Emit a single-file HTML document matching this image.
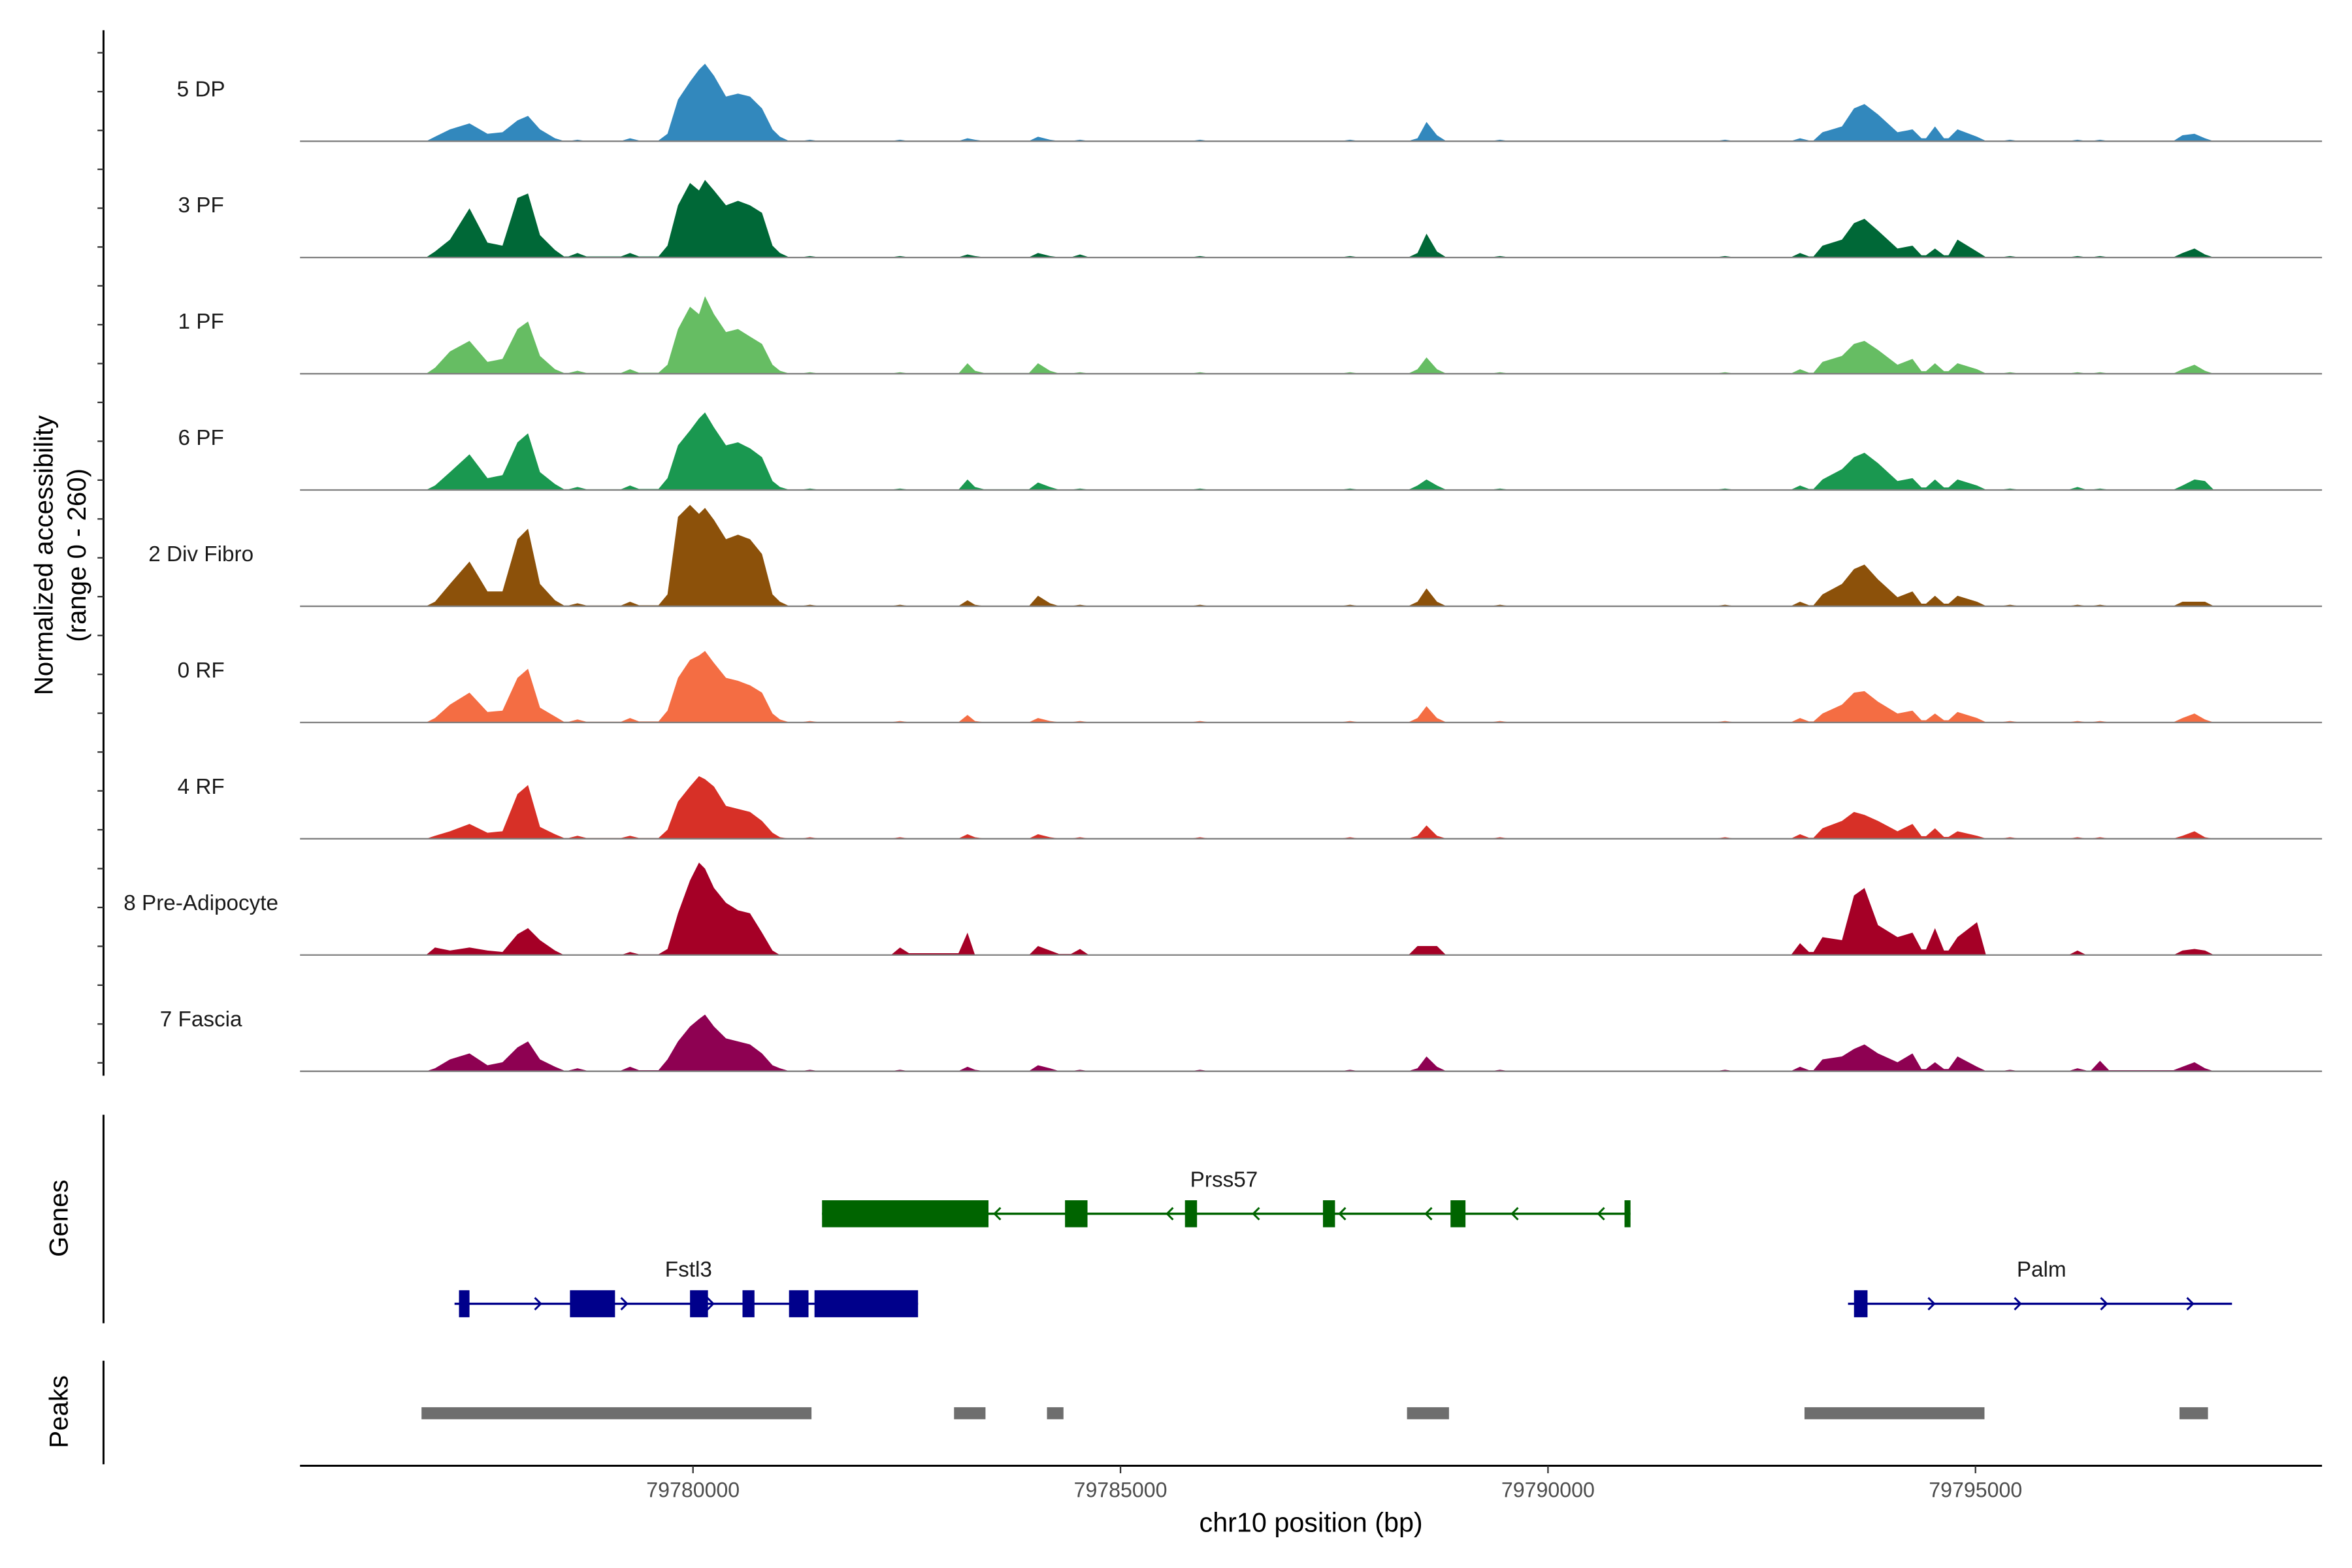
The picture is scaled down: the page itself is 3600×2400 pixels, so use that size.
<!DOCTYPE html>
<html><head><meta charset="utf-8"><style>
html,body{margin:0;padding:0;background:#fff;}
svg{display:block;font-family:"Liberation Sans",sans-serif;}
</style></head><body>
<svg id="chart" width="3600" height="2400" viewBox="0 0 1568 1045" xmlns="http://www.w3.org/2000/svg">
<rect width="1568" height="1045" fill="#fff"/>
<g id="tracks"></g>
<g id="genes"></g>
<g id="peaks"></g>
<g id="axes"></g>
</svg>
<script>
// ---- data ----
const positions=[79776491,79776982,79777158,79777386,79777596,79777772,79777947,79778070,79778211,79778386,79778649,79779263,79779702,79779825,79779965,79780070,79780140,79780246,79780386,79780526,79780667,79780807,79780930,79781018,79781368,79782421,79783211,79783298,79784035,79784175,79784526,79785930,79787684,79788474,79788579,79788702,79789439,79792070,79792947,79793211,79793439,79793579,79793702,79793860,79794088,79794263,79794526,79794789,79795018,79795404,79796193,79796456,79797421,79797561,79797684,79797982];
const trackNames=["5 DP","3 PF","1 PF","6 PF","2 Div Fibro","0 RF","4 RF","8 Pre-Adipocyte","7 Fascia"];
const trackColors=["#3288bd","#006837","#66bd63","#1a9850","#8c510a","#f46d43","#d73027","#a50026","#8e0152"];
const cov5DP=[0,3,8,12,5,6,14,17,8,2,1,2,5,28,40,48,52,44,30,32,30,22,8,3,1,1,2,1,3,1,1,1,1,2,13,4,1,1,2,6,10,22,25,18,6,8,10,8,3,1,1,1,4,5,2,0];
const cov3PF=[0,4,12,33,10,8,40,43,15,5,3,3,8,35,50,45,52,45,35,38,35,30,8,3,1,1,2,1,3,1,2,1,1,3,16,4,1,1,3,8,12,23,26,18,6,8,6,12,4,1,1,1,3,6,2,0];
const cov1PF=[0,4,15,22,8,10,30,35,12,3,2,3,6,30,45,40,52,40,28,30,25,20,6,2,1,1,7,2,7,2,1,1,1,3,11,3,1,1,3,8,12,20,22,16,6,10,7,7,3,1,1,1,3,6,2,0];
const cov6PF=[0,3,12,24,8,10,32,38,12,4,2,3,8,30,40,48,52,42,30,32,28,22,6,2,1,1,7,2,5,2,1,1,1,3,7,3,1,1,3,7,14,22,25,18,6,8,7,7,3,1,2,1,3,7,6,0];
const cov2DivFibro=[0,3,15,30,10,10,45,52,15,4,2,3,8,60,68,62,66,58,45,48,45,35,8,3,1,1,4,1,7,2,1,1,1,3,12,3,1,1,3,8,15,25,28,18,6,10,7,7,3,1,1,1,3,3,3,0];
const cov0RF=[0,3,12,20,7,8,30,36,10,4,2,3,8,30,42,45,48,40,30,28,25,20,6,2,1,1,5,1,3,1,1,1,1,3,11,3,1,1,3,6,12,20,21,14,6,8,6,7,3,1,1,1,3,6,2,0];
const cov4RF=[0,2,5,10,4,5,30,36,8,3,2,2,6,25,35,42,40,35,22,20,18,12,4,1,1,1,3,1,3,1,1,1,1,2,9,2,1,1,3,7,12,18,16,12,5,10,7,5,2,1,1,1,2,5,1,0];
const cov8PreAdipocyte=[0,5,3,5,3,2,14,18,10,3,0,2,4,28,50,62,58,45,35,30,28,15,3,0,0,5,15,0,6,3,4,0,0,6,6,6,0,0,8,12,10,40,45,20,12,15,18,12,22,0,3,0,3,4,3,0];
const cov7Fascia=[0,2,8,12,4,6,16,20,8,3,2,3,8,20,30,35,38,30,22,20,18,12,4,2,1,1,3,1,4,2,1,1,1,2,10,3,1,1,3,8,10,15,18,12,6,12,6,10,3,1,2,7,3,6,2,0];
const xTicks=[79780000,79785000,79790000,79795000];
// genes: [start,end]
const prss57Span=[79781509,79790965];
const prss57Exons=[[79781509,79783456],[79784351,79784614],[79785754,79785895],[79787368,79787509],[79788860,79789035],[79790895,79790965]];
const fstl3Span=[79777211,79782632];
const fstl3Exons=[[79777263,79777386],[79778561,79779088],[79779965,79780175],[79780579,79780719],[79781123,79781351],[79781421,79782632]];
const palmSpan=[79793509,79798000];
const palmExons=[[79793579,79793737]];
const peakStarts=[79776825,79783053,79784140,79788351,79793000,79797386];
const peakEnds=[79781386,79783421,79784333,79788842,79795105,79797719];

// ---- scales ----
const NS="http://www.w3.org/2000/svg";
const X0=462, PXPERBP=57/1000, REF=79780000;
function xs(bp){return X0+(bp-REF)*PXPERBP;}
const yMax=78, trackH=77.5;
function ys(v){return v/yMax*trackH;}
const covs=[cov5DP,cov3PF,cov1PF,cov6PF,cov2DivFibro,cov0RF,cov4RF,cov8PreAdipocyte,cov7Fascia];
function mk(tag,attrs,parent){const e=document.createElementNS(NS,tag);for(const k in attrs)e.setAttribute(k,attrs[k]);parent.appendChild(e);return e;}

const tg=document.getElementById('tracks');
covs.forEach((c,i)=>{
  const base=94+i*77.5;
  let d=`M${xs(positions[0])},${base}`;
  positions.forEach((p,j)=>{
    const x=xs(p);
    if(j>0){
      const xp=xs(positions[j-1]);
      if(x-xp>14){
        const lo=Math.min(c[j],c[j-1])*0.25;
        d+=` L${(xp+6).toFixed(1)},${(base-ys(lo)).toFixed(1)} L${(x-6).toFixed(1)},${(base-ys(lo)).toFixed(1)}`;
      }
    }
    d+=` L${x.toFixed(1)},${(base-ys(c[j])).toFixed(1)}`;
  });
  d+=` L${xs(positions[positions.length-1])},${base} Z`;
  const a=mk('path',{d:d,fill:trackColors[i]},tg);
  
  
  const l=mk('line',{x1:200,x2:1548,y1:base,y2:base,stroke:'#7f7f7f','stroke-width':1},tg);
  
  
  const t=mk('text',{x:134,y:base-30,'text-anchor':'middle','font-size':14.5,fill:'#1a1a1a'},tg);
  t.textContent=trackNames[i];
  
  
});

const gg=document.getElementById('genes');
function gene(span,exons,y,col,dir,name,lx,ly){
  const l=mk('line',{x1:xs(span[0]),x2:xs(span[1]),y1:y,y2:y,stroke:col,'stroke-width':1.5},gg);
  
  
  const n=Math.floor((xs(span[1])-xs(span[0]))/57);
  for(let k=1;k<=n;k++){
    const ax=xs(span[0])+k*57.5;
    const ch=mk('path',{d:dir>0?`M${ax-4},${y-4} L${ax},${y} L${ax-4},${y+4}`:`M${ax+4},${y-4} L${ax},${y} L${ax+4},${y+4}`,stroke:col,fill:'none','stroke-width':1.3},gg);
    
    
  }
  exons.forEach(e=>{
    const r=mk('rect',{x:xs(e[0]),y:y-9,width:Math.max(3,xs(e[1])-xs(e[0])),height:18,fill:col},gg);
    
    
  });
  const t=mk('text',{x:lx,y:ly,'text-anchor':'middle','font-size':14.5,fill:'#1a1a1a'},gg);
  t.textContent=name;
  
  
}
gene(prss57Span,prss57Exons,809,'#006400',-1,'Prss57',816,791);
gene(fstl3Span,fstl3Exons,869,'#00008b',1,'Fstl3',459,851);
gene(palmSpan,palmExons,869,'#00008b',1,'Palm',1361,851);

const pg=document.getElementById('peaks');
peakStarts.forEach((s,i)=>{
  const r=mk('rect',{x:xs(s),y:938,width:xs(peakEnds[i])-xs(s),height:8,fill:'#6e6e6e'},pg);
  
  
});

const ag=document.getElementById('axes');
function ln(x1,y1,x2,y2,name,w,c){const l=mk('line',{x1,y1,x2,y2,stroke:c||'#000','stroke-width':w||1.3},ag);}
ln(69,20,69,717,'y-axis-line');
for(let k=0;k<27;k++){const y=35+k*25.9;if(y>712)break;ln(65,y,69,y,'y-axis-tick',1,'#333');}
ln(69,743,69,882,'genes-axis-line');
ln(69,907,69,976,'peaks-axis-line');
ln(200,977,1548,977,'x-axis-line');
xTicks.forEach(v=>{
  ln(xs(v),977,xs(v),982,'x-axis-tick',1,'#333');
  const t=mk('text',{x:xs(v),y:998,'text-anchor':'middle','font-size':14,fill:'#4d4d4d'},ag);
  t.textContent=String(v);
  
  
});
function txt(s,x,y,size,name,rot){const t=mk('text',{x,y,'text-anchor':'middle','font-size':size,fill:'#000'},ag);if(rot)t.setAttribute('transform',`rotate(-90 ${x} ${y})`);t.textContent=s;}
txt('chr10 position (bp)',874,1021,18,'x-axis-title');
txt('Normalized accessibility',35,370,17.5,'y-axis-title',true);
txt('(range 0 - 260)',57,370,17.5,'y-axis-subtitle',true);
txt('Genes',45,812,17.5,'genes-axis-title',true);
txt('Peaks',45,941,17.5,'peaks-axis-title',true);
</script>
</body></html>
